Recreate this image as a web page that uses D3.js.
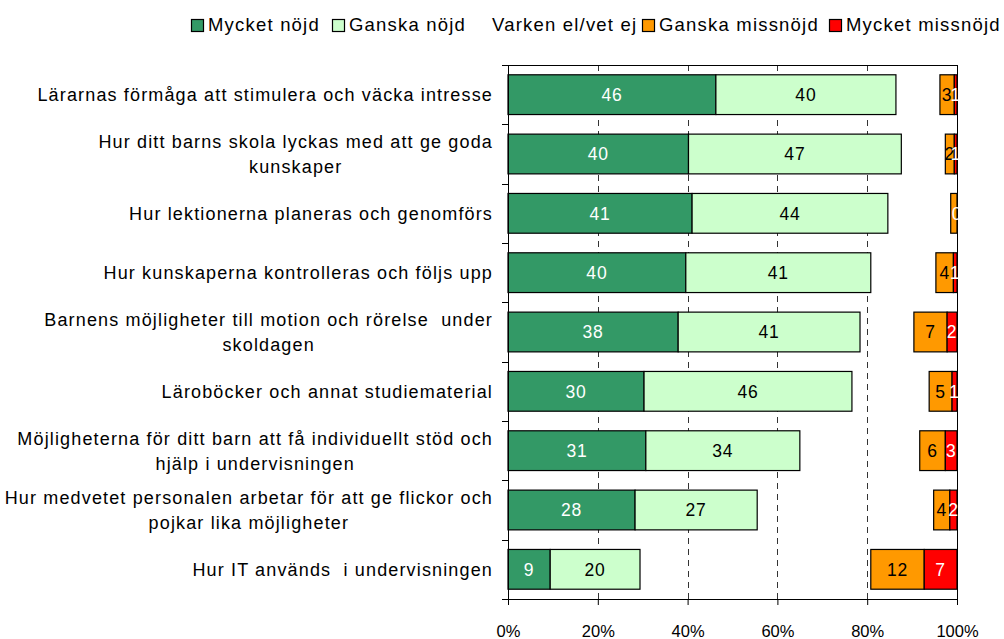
<!DOCTYPE html>
<html>
<head>
<meta charset="utf-8">
<script src="https://cdn.jsdelivr.net/npm/d3@7"></script>
<style>
  body { margin: 0; background: #fff; }
  svg text { font-family: "Liberation Sans", Arial, sans-serif; white-space: pre; }
</style>
</head>
<body>
<div id="chart"></div>
<script>
// kategorier (varje rad = en lista av textrader)
var categories = [
  ["Lärarnas förmåga att stimulera och väcka intresse"],
  ["Hur ditt barns skola lyckas med att ge goda", "kunskaper"],
  ["Hur lektionerna planeras och genomförs"],
  ["Hur kunskaperna kontrolleras och följs upp"],
  ["Barnens möjligheter till motion och rörelse  under", "skoldagen"],
  ["Läroböcker och annat studiematerial"],
  ["Möjligheterna för ditt barn att få individuellt stöd och", "hjälp i undervisningen"],
  ["Hur medvetet personalen arbetar för att ge flickor och", "pojkar lika möjligheter"],
  ["Hur IT används  i undervisningen"]
];

// serier (procent)
var mycketNojd      = [46.3, 40.2, 41.0, 39.6, 37.9, 30.3, 30.7, 28.3, 9.4];
var ganskaNojd      = [40.1, 47.4, 43.6, 41.2, 40.5, 46.3, 34.3, 27.2, 20.0];
var ganskaMissnojd  = [3.2, 2.0, 1.4, 3.9, 7.4, 5.1, 5.7, 3.6, 11.9];
var mycketMissnojd  = [0.6, 0.6, 0.0, 0.8, 2.2, 1.1, 2.6, 1.6, 7.3];

var legendNames = ["Mycket nöjd", "Ganska nöjd", "Varken el/vet ej", "Ganska missnöjd", "Mycket missnöjd"];
var legendColors = ["#339966", "#CCFFCC", "none", "#FF9900", "#FF0000"];
var xTicks = [0, 20, 40, 60, 80, 100];

var W = 1004, H = 639;
var margin = { top: 65, right: 47, bottom: 40, left: 508 };
var width = W - margin.left - margin.right;
var height = H - margin.top - margin.bottom;

var svg = d3.select("#chart").append("svg")
    .attr("width", W)
    .attr("height", H);

var g = svg.append("g")
    .attr("transform", "translate(" + margin.left + "," + margin.top + ")");

var x = d3.scaleLinear().domain([0, 100]).range([0, width]);
var y = d3.scaleBand().domain(d3.range(categories.length)).range([0, height]).paddingInner(0.33).paddingOuter(0.165);
var band = height / categories.length;

// rutnät (streckade linjer)
g.selectAll(".grid")
    .data(xTicks.slice(1, -1))
    .enter().append("line")
    .attr("x1", function(d) { return Math.round(x(d)) + 0.5; })
    .attr("x2", function(d) { return Math.round(x(d)) + 0.5; })
    .attr("y1", 0)
    .attr("y2", height)
    .attr("stroke", "#333")
    .attr("stroke-dasharray", "6,5");

// ram upptill och till höger
g.append("line").attr("x1", 0).attr("x2", width).attr("y1", 0.5).attr("y2", 0.5).attr("stroke", "#000");
g.append("line").attr("x1", width + 0.5).attr("x2", width + 0.5).attr("y1", 0).attr("y2", height).attr("stroke", "#000");

// staplar
function addSegments(values, start, color, textColor, minLabel) {
  var rows = values.map(function(v, i) { return { v: v, s: start[i], i: i }; });
  g.selectAll(null)
      .data(rows.filter(function(d) { return d.v > 0; }))
      .enter().append("rect")
      .attr("x", function(d) { return x(d.s); })
      .attr("y", function(d) { return y(d.i); })
      .attr("width", function(d) { return x(d.s + d.v) - x(d.s); })
      .attr("height", y.bandwidth())
      .attr("fill", color)
      .attr("stroke", "#000")
      .attr("stroke-width", 1.2);
  g.selectAll(null)
      .data(rows.filter(function(d) { return x(d.s + d.v) - x(d.s) >= minLabel; }))
      .enter().append("text")
      .attr("x", function(d) { return x(d.s + d.v / 2); })
      .attr("y", function(d) { return y(d.i) + y.bandwidth() / 2; })
      .attr("dy", "0.36em")
      .attr("text-anchor", "middle")
      .attr("font-size", 17.5)
      .attr("letter-spacing", 0.8)
      .attr("fill", textColor)
      .text(function(d) { return Math.round(d.v); });
}

var zeros = mycketNojd.map(function() { return 0; });
addSegments(mycketNojd, zeros, "#339966", "#fff", 0);
addSegments(ganskaNojd, mycketNojd, "#CCFFCC", "#000", 0);
addSegments(ganskaMissnojd, ganskaMissnojd.map(function(v, i) { return 100 - mycketMissnojd[i] - v; }), "#FF9900", "#000", 8);
addSegments(mycketMissnojd, mycketMissnojd.map(function(v) { return 100 - v; }), "#FF0000", "#fff", -1);

// x-axel
var xAxis = d3.axisBottom(x).tickValues(xTicks).tickFormat(function(d) { return d + "%"; }).tickSize(6).tickSizeOuter(0);
var xg = g.append("g").attr("transform", "translate(0," + height + ")").call(xAxis);
xg.select(".domain").attr("stroke", "#000");
xg.selectAll(".tick text").attr("font-size", 16.5).attr("fill", "#000").attr("y", 0).attr("dy", 0)
    .attr("transform", "translate(0,38)");
xg.append("line").attr("x1", -6).attr("x2", 0).attr("y1", 0.5).attr("y2", 0.5).attr("stroke", "#000");

// y-axel med streck mellan kategorierna
g.append("line").attr("x1", 0.5).attr("x2", 0.5).attr("y1", 0).attr("y2", height).attr("stroke", "#000");
g.selectAll(".ytick")
    .data(d3.range(categories.length + 1))
    .enter().append("line")
    .attr("x1", -6).attr("x2", 0)
    .attr("y1", function(d) { return Math.round(d * band) + 0.5; })
    .attr("y2", function(d) { return Math.round(d * band) + 0.5; })
    .attr("stroke", "#000");

// kategorietiketter (centrerade rader, högerjusterat block)
categories.forEach(function(lines, i) {
  var t = svg.append("text").attr("font-size", 18).attr("letter-spacing", 1.15).attr("fill", "#000");
  var cy = margin.top + y(i) + y.bandwidth() / 2;
  var lh = 25;
  var spans = lines.map(function(l, k) {
    return t.append("tspan")
        .attr("y", cy + (k - (lines.length - 1) / 2) * lh)
        .attr("dy", "0.36em")
        .attr("text-anchor", "middle")
        .text(l);
  });
  var maxW = d3.max(spans, function(s) { return s.node().getComputedTextLength(); });
  spans.forEach(function(s) { s.attr("x", 493 - maxW / 2); });
});

// legend
var lx = [191, 332, 475, 642, 829];
legendNames.forEach(function(name, i) {
  var lg = svg.append("g").attr("transform", "translate(" + lx[i] + ",31)");
  if (legendColors[i] !== "none") {
    lg.append("rect").attr("x", 0.5).attr("y", -11.5).attr("width", 12).attr("height", 12)
        .attr("fill", legendColors[i]).attr("stroke", "#000").attr("stroke-width", 1.2);
  }
  lg.append("text").attr("x", 17).attr("font-size", 18.5).attr("letter-spacing", 1.2)
      .attr("fill", "#000").text(name);
});
</script>
</body>
</html>
